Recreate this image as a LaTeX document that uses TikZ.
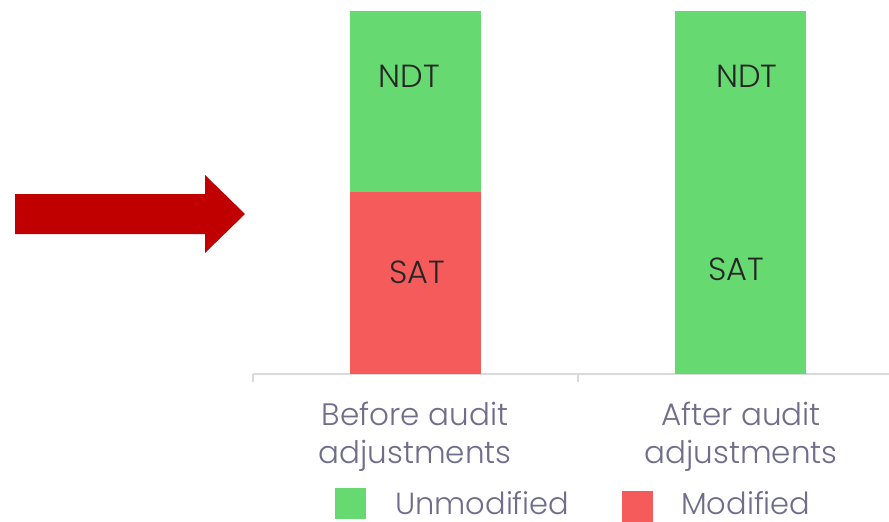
\documentclass[tikz,border=0pt]{standalone}
\usepackage{fontspec}
\setmainfont{Poppins Light}[BoldFont={Poppins}]
\definecolor{barG}{RGB}{102,217,113}
\definecolor{barR}{RGB}{245,91,91}
\definecolor{arrR}{RGB}{192,0,0}
\definecolor{axisC}{RGB}{217,217,217}
\definecolor{lblC}{RGB}{112,109,139}
\definecolor{inC}{RGB}{38,38,38}
\begin{document}
\begin{tikzpicture}[x=1pt,y=-1pt,
  seg/.style={inner sep=0pt,outer sep=0pt,minimum width=131pt,anchor=north west},
  inlbl/.style={font=\fontsize{32}{36}\selectfont,text=inC,inner sep=0pt,anchor=base},
  cat/.style={font=\fontsize{31}{36}\selectfont,text=lblC,inner sep=0pt,anchor=base},
  leg/.style={font=\fontsize{30.5}{34}\selectfont,text=lblC,inner sep=0pt,anchor=base west},
  legbox/.style={minimum width=31pt,minimum height=31pt,inner sep=0pt,anchor=north west}]
\useasboundingbox (0,0) rectangle (889,522);
% arrow
\fill[arrR] (15,194) -- (205,194) -- (205,175) -- (245,214) -- (205,253) -- (205,234) -- (15,234) -- cycle;
% axis
\draw[axisC,line width=1.2pt] (253,374) -- (889,374);
\draw[axisC,line width=1.2pt] (253,374) -- (253,382);
\draw[axisC,line width=1.2pt] (578,374) -- (578,382);
% bars
\node[seg,fill=barG,minimum height=181pt] (b1ndt) at (350,11) {};
\node[seg,fill=barR,minimum height=182pt] (b1sat) at (350,192) {};
\node[seg,fill=barG,minimum height=363pt] (b2) at (675,11) {};
\node[inlbl] (t1) at (409.5,87) {NDT};
\node[inlbl] (t2) at (417,283) {SAT};
\node[inlbl] (t3) at (747,87) {NDT};
\node[inlbl] (t4) at (736.5,280) {SAT};
% categories
\node[cat] (c1a) at (415,425) {Before audit};
\node[cat] (c1b) at (415,463.5) {adjustments};
\node[cat] (c2a) at (741,425) {After audit};
\node[cat] (c2b) at (741,463.5) {adjustments};
% legend
\node[legbox,fill=barG] (lg) at (335,488) {};
\node[leg] (lgt) at (395,514.5) {Unmodified};
\node[legbox,fill=barR] (lr) at (622,491) {};
\node[leg] (lrt) at (681,514.5) {Modified};
\end{tikzpicture}
\end{document}
